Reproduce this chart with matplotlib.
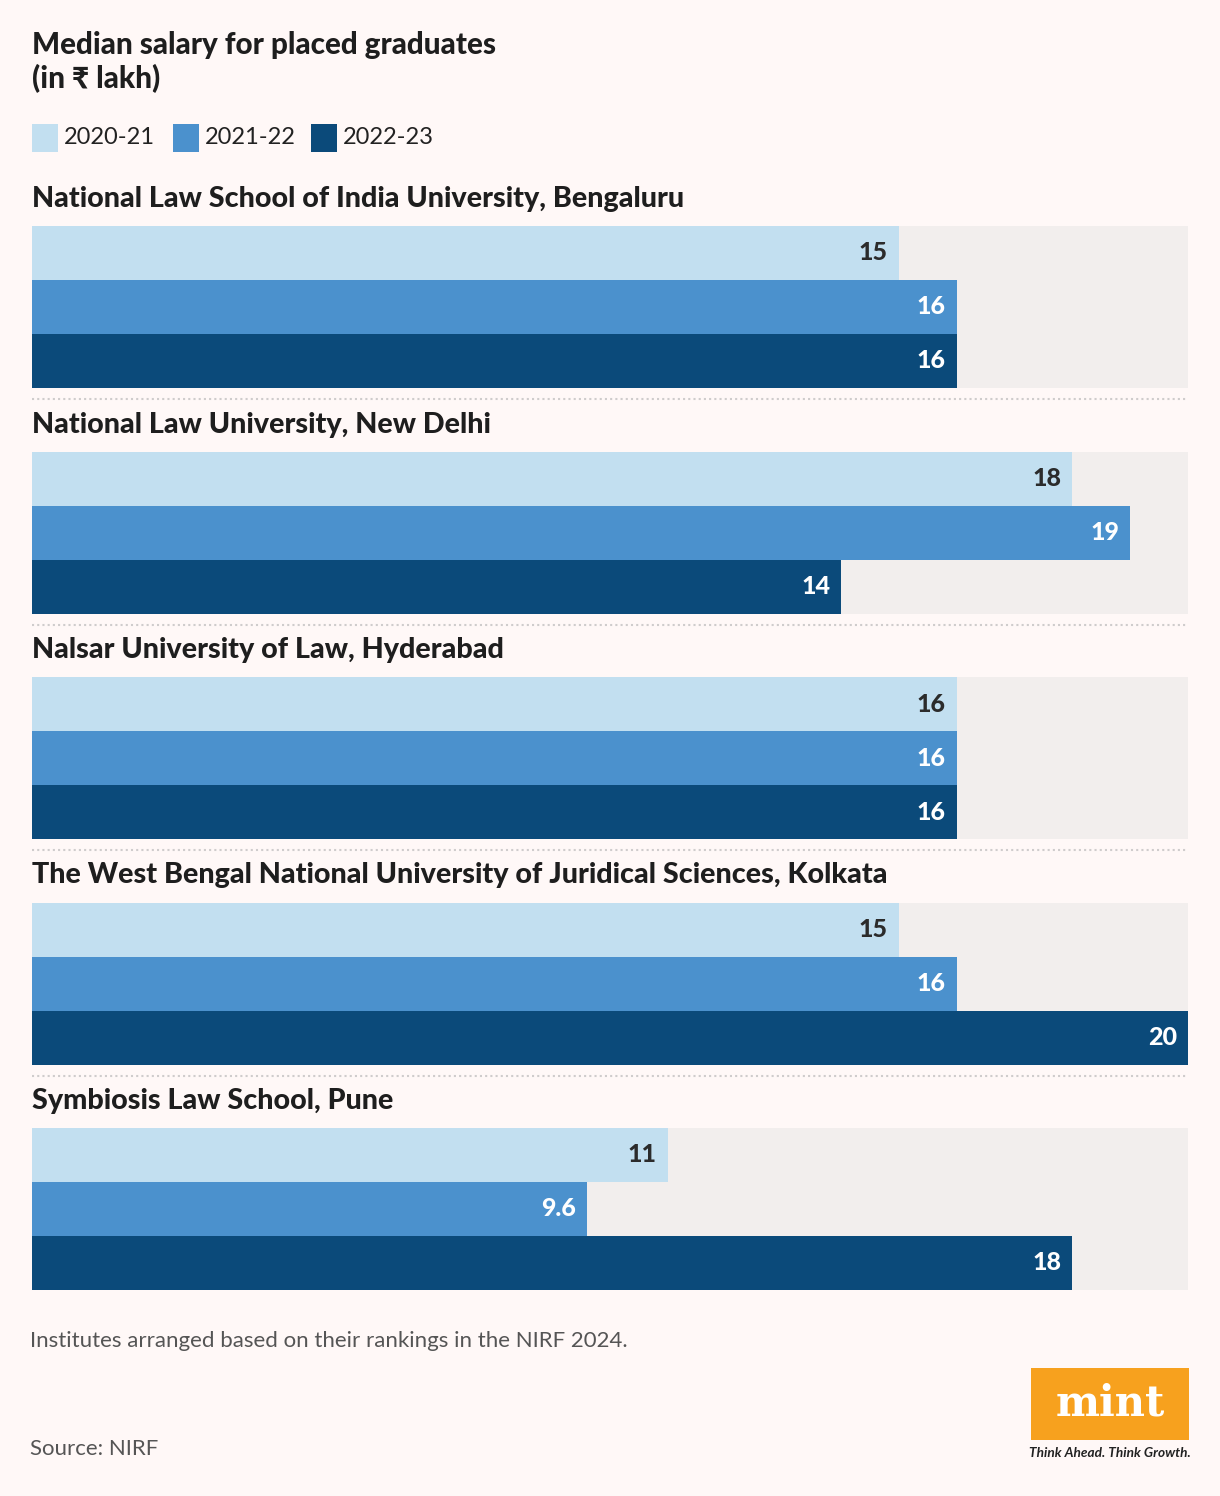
import matplotlib
matplotlib.use("Agg")
import matplotlib.pyplot as plt
from matplotlib.patches import Rectangle

# ---- data ----
institutes = [
    "National Law School of India University, Bengaluru",
    "National Law University, New Delhi",
    "Nalsar University of Law, Hyderabad",
    "The West Bengal National University of Juridical Sciences, Kolkata",
    "Symbiosis Law School, Pune",
]
years = ["2020-21", "2021-22", "2022-23"]
sal_2020_21 = [15, 18, 16, 15, 11]
sal_2021_22 = [16, 19, 16, 16, 9.6]
sal_2022_23 = [16, 14, 16, 20, 18]

colors = ["#c2dff0", "#4b91cd", "#0b4a7a"]
label_colors = ["#2b2b2b", "white", "white"]
bg = "#fff8f7"
track = "#f2eeed"

W, H = 1220, 1496
fig = plt.figure(figsize=(W / 100, H / 100), dpi=100, facecolor=bg)
FONT = "Lato"
HEAVY = "black"


def fx(x):
    return x / W


def fy(y):
    return 1 - y / H


# title
fig.text(fx(32), fy(45), "Median salary for placed graduates", fontsize=21.3,
         fontweight=HEAVY, family=FONT, color="#1e1e1e", va="center", ha="left")
fig.text(fx(32), fy(79), "(in \u20b9 lakh)", fontsize=21.3, fontweight=HEAVY,
         family=[FONT, "DejaVu Sans"], color="#1e1e1e", va="center", ha="left")

# legend
leg_x = [32, 173, 311]
for lx, c, lab in zip(leg_x, colors, years):
    fig.patches.append(Rectangle((fx(lx), fy(152)), 26 / W, 28 / H, transform=fig.transFigure,
                                 facecolor=c, edgecolor="none"))
    fig.text(fx(lx + 32), fy(138), lab, fontsize=17, family=FONT, fontweight="normal",
             color="#222222", va="center", ha="left")

series = [sal_2020_21, sal_2021_22, sal_2022_23]
top0 = 226
step = 225.5
track_h = 162
for i, name in enumerate(institutes):
    top = top0 + i * step
    fig.text(fx(32), fy(top - 27), name, fontsize=20.7, fontweight=HEAVY, family=FONT,
             color="#1e1e1e", va="center", ha="left")
    ax = fig.add_axes([fx(32), fy(top + track_h), 1156 / W, track_h / H])
    ax.set_facecolor(track)
    ax.set_xlim(0, 20)
    ax.set_ylim(2.5, -0.5)
    for j, s in enumerate(series):
        v = s[i]
        ax.barh(j, v, height=1.0, color=colors[j], edgecolor="none")
        ax.annotate(f"{v:g}", xy=(v, j), xytext=(-8, 0), textcoords="offset points",
                    ha="right", va="center", fontsize=18, fontweight=HEAVY,
                    family=FONT, color=label_colors[j])
    ax.set_xticks([])
    ax.set_yticks([])
    for sp in ax.spines.values():
        sp.set_visible(False)
    if i < len(institutes) - 1:
        sep_y = top + track_h + 11
        fig.add_artist(plt.Line2D([fx(32), fx(1188)], [fy(sep_y), fy(sep_y)],
                                  transform=fig.transFigure, color="#cfcccc",
                                  linestyle=(0, (1, 1.5)), linewidth=1.5))

# footnotes
fig.text(fx(30), fy(1341), "Institutes arranged based on their rankings in the NIRF 2024.",
         fontsize=16, family=FONT, fontweight="normal", color="#555555", va="center", ha="left")
fig.text(fx(30), fy(1449), "Source: NIRF", fontsize=16, family=FONT, fontweight="normal",
         color="#555555", va="center", ha="left")

# mint logo
fig.patches.append(Rectangle((fx(1031), fy(1440)), 158 / W, 72 / H, transform=fig.transFigure,
                             facecolor="#f7a11e", edgecolor="none"))
fig.text(fx(1110), fy(1403), "mint", fontsize=30, fontweight="bold", family="DejaVu Serif",
         color="white", va="center", ha="center")
fig.text(fx(1110), fy(1453), "Think Ahead. Think Growth.", fontsize=9.8, fontstyle="italic",
         fontweight="bold", family=FONT, color="#222222", va="center", ha="center")

fig.savefig("out.png", dpi=100, facecolor=bg)
